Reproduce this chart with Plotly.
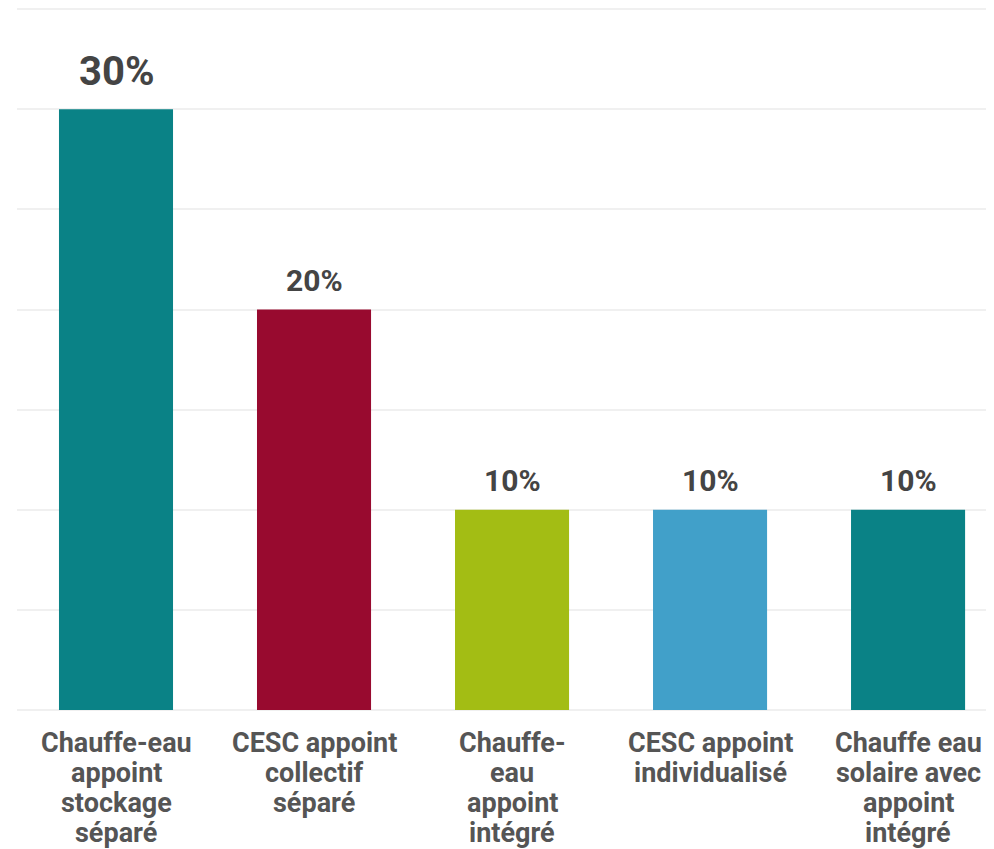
import plotly.graph_objects as go

categories = [
    "Chauffe-eau<br>appoint<br>stockage<br>séparé",
    "CESC appoint<br>collectif<br>séparé",
    "Chauffe-<br>eau<br>appoint<br>intégré",
    "CESC appoint<br>individualisé",
    "Chauffe eau<br>solaire avec<br>appoint<br>intégré",
]
values = [30, 20, 10, 10, 10]
value_labels = ["30%", "20%", "10%", "10%", "10%"]
bar_colors = ["#0a8286", "#980a2f", "#a3bd14", "#41a0c9", "#0a8286"]
label_sizes = [40, 30, 30, 30, 30]

x_idx = list(range(len(categories)))

fig = go.Figure()
fig.add_trace(go.Bar(
    x=x_idx,
    y=values,
    marker=dict(color=bar_colors, line=dict(width=0)),
    width=0.576,
    hoverinfo="skip",
))

# value labels above bars
for i, (v, t, s) in enumerate(zip(values, value_labels, label_sizes)):
    fig.add_annotation(
        x=i, y=v, text=t, showarrow=False, xref="x", yref="y",
        yanchor="bottom", yshift=12 if s > 30 else 10,
        font=dict(family="Roboto", size=s, color="#444444", weight="bold"),
    )

# category labels (one annotation per line for tight line spacing)
LINE_STEP = 30
FIRST_SHIFT = -15
for i, cat in enumerate(categories):
    for j, line in enumerate(cat.split("<br>")):
        fig.add_annotation(
            x=i, y=0, xref="x", yref="paper", text=line, showarrow=False,
            xanchor="center", yanchor="top", yshift=FIRST_SHIFT - LINE_STEP * j,
            font=dict(family="Roboto", size=27, color="#555555", weight="bold"),
        )

fig.update_layout(
    width=986, height=841,
    margin=dict(l=9, r=0, t=0, b=139, pad=0),
    plot_bgcolor="white", paper_bgcolor="white",
    showlegend=False,
    font=dict(family="Roboto"),
    xaxis=dict(
        range=[-0.5, 4.434],
        showgrid=False, zeroline=False, showline=False,
        showticklabels=False, ticks="",
    ),
    yaxis=dict(
        range=[0, 35.06], tickmode="linear", tick0=0, dtick=5, showticklabels=False,
        showgrid=True, gridcolor="#f0f0f0", gridwidth=2,
        zeroline=True, zerolinecolor="#f0f0f0", zerolinewidth=2,
    ),
)

fig.write_html("out.html")
